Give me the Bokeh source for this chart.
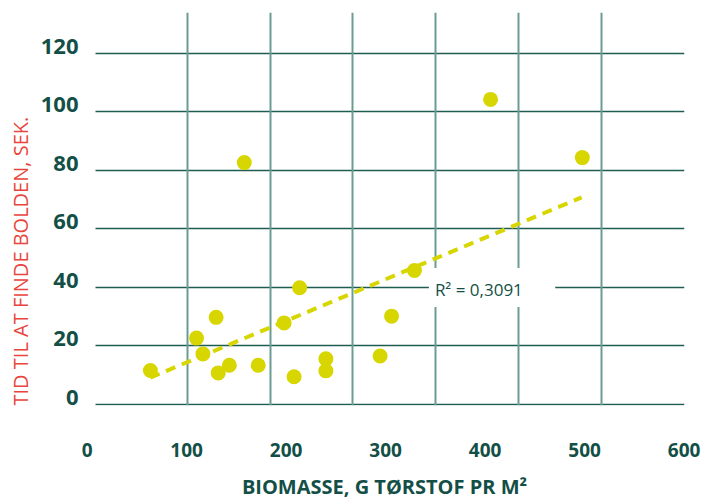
from bokeh.plotting import figure
from bokeh.models import Range1d, LinearAxis, FixedTicker, Grid, Label, Title, ColumnDataSource
from bokeh.embed import file_html
from bokeh.resources import INLINE

# ---- data ----
biomasse = [63.6, 110, 129.7, 116.4, 131.8, 143, 172, 198, 213.6, 208, 240, 240,
            294.5, 306, 158, 329, 405.5, 497.7]
tid = [11.6, 22.7, 29.8, 17.3, 10.8, 13.4, 13.4, 27.9, 39.9, 9.5, 15.6, 11.5,
       16.6, 30.2, 82.7, 45.8, 104.3, 84.4]
# trend line as drawn in the picture
trend_x = [63.6, 497.0]
trend_y = [9.2, 70.8]
x_ticks = [0, 100, 200, 300, 400, 500, 600]
y_ticks = [0, 20, 40, 60, 80, 100, 120]
# vertical grid lines of the original drawing (they do not sit on the x ticks)
x_grid = [100.7, 183.9, 267.1, 350.4, 433.6, 516.8]
r2_text = "R\u00b2 =  0,3091"
x_title = "BIOMASSE, G T\u00d8RSTOF PR M\u00b2"
y_title = "TID TIL AT FINDE BOLDEN, SEK."

DARK = "#134f46"
YEL = "#d7d600"
RED = "#e8453c"
FONT = "Open Sans"

X0, X1 = -2.6, 600.4
Y0, Y1 = -0.34, 134.0

p = figure(width=702, height=504, output_backend="svg", toolbar_location=None,
           x_range=Range1d(X0, X1), y_range=Range1d(Y0, Y1),
           x_axis_location=None, y_axis_location=None,
           min_border_left=82, min_border_right=18, min_border_top=12,
           min_border_bottom=99, outline_line_color=None)
p.xgrid.visible = False
p.ygrid.visible = False

shift = 2.4
p.extra_y_ranges = {"lab": Range1d(Y0 - shift, Y1 - shift)}

# grids
hgrid = Grid(dimension=1, ticker=FixedTicker(ticks=y_ticks),
             grid_line_color="#1f5c52", grid_line_width=1.3,
             cross_bounds=(8.4, X1))
vgrid = Grid(dimension=0, ticker=FixedTicker(ticks=x_grid),
             grid_line_color="#6a9c94", grid_line_width=2)
p.add_layout(hgrid, "center")
p.add_layout(vgrid, "center")

# axes
xaxis = LinearAxis(ticker=FixedTicker(ticks=x_ticks), axis_label=x_title)
yaxis = LinearAxis(y_range_name="lab", ticker=FixedTicker(ticks=y_ticks))
for ax in (xaxis, yaxis):
    ax.axis_line_color = None
    ax.major_tick_line_color = None
    ax.minor_tick_line_color = None
    ax.major_label_text_color = DARK
    ax.major_label_text_font = FONT
    ax.major_label_text_font_style = "bold"
xaxis.major_label_text_font_size = "19px"
xaxis.major_label_standoff = 31
xaxis.axis_label_standoff = 13
xaxis.axis_label_text_font = FONT
xaxis.axis_label_text_font_size = "20px"
xaxis.axis_label_text_font_style = "bold"
xaxis.axis_label_text_color = DARK

yaxis.major_label_text_font_size = "22px"
yaxis.major_label_standoff = 0

p.add_layout(xaxis, "below")
p.add_layout(yaxis, "left")

ytitle = Title(text=y_title, align="left", offset=0, standoff=8,
               text_font=FONT, text_font_size="20px", text_font_style="normal",
               text_color=RED)
p.add_layout(ytitle, "left")

# trend line and points
p.line(trend_x, trend_y, line_color=YEL, line_width=4, line_dash="10 7")
src = ColumnDataSource(dict(x=biomasse, y=tid))
p.scatter("x", "y", source=src, size=15, fill_color=YEL, line_color=None)

lbl = Label(x=343.5, y=40, text=r2_text, text_baseline="middle", text_align="left",
            text_color=DARK, text_font=FONT, text_font_size="17px",
            background_fill_color="white", padding=(6, 28, 10, 6))
p.add_layout(lbl)

open("out.html", "w").write(file_html(p, INLINE))
